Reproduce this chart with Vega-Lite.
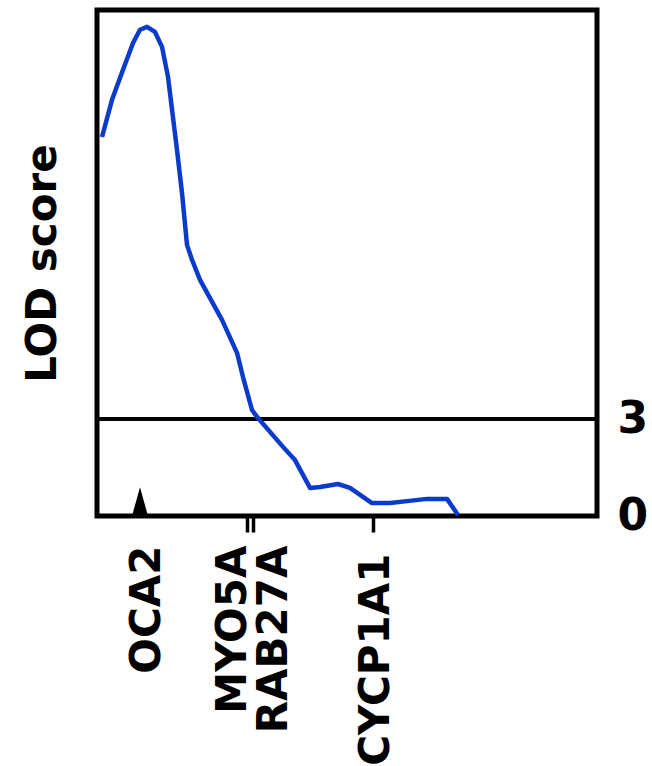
{
  "$schema": "https://vega.github.io/schema/vega-lite/v6.json",
  "width": 500,
  "height": 506,
  "autosize": "none",
  "padding": {"left": 97, "top": 10, "right": 55, "bottom": 250},
  "background": "white",
  "config": {
    "view": {"stroke": "black", "strokeWidth": 5},
    "font": "DejaVu Sans",
    "axisX": {
      "title": null,
      "domain": false,
      "grid": false,
      "tickSize": 16,
      "tickWidth": 3.5,
      "tickColor": "black",
      "labelAngle": -90,
      "labelAlign": "right",
      "labelBaseline": "middle",
      "labelFont": "DejaVu Sans",
      "labelFontSize": 42,
      "labelFontWeight": "bold",
      "labelColor": "black",
      "labelFlush": false,
      "labelOverlap": false,
      "labelBound": false,
      "labelLimit": 0
    }
  },
  "datasets": {
    "lod": [
      {"pos": 1.0, "lod": 11.73},
      {"pos": 3.0, "lod": 12.88},
      {"pos": 5.2, "lod": 13.81},
      {"pos": 7.2, "lod": 14.64},
      {"pos": 8.6, "lod": 15.05},
      {"pos": 10.0, "lod": 15.14},
      {"pos": 11.6, "lod": 14.98},
      {"pos": 13.0, "lod": 14.52},
      {"pos": 14.2, "lod": 13.59},
      {"pos": 16.0, "lod": 11.33},
      {"pos": 17.0, "lod": 10.0},
      {"pos": 18.0, "lod": 8.39},
      {"pos": 19.0, "lod": 7.93},
      {"pos": 20.6, "lod": 7.31},
      {"pos": 25.0, "lod": 6.07},
      {"pos": 28.0, "lod": 5.05},
      {"pos": 29.2, "lod": 4.3},
      {"pos": 31.0, "lod": 3.28},
      {"pos": 32.2, "lod": 3.03},
      {"pos": 37.2, "lod": 2.14},
      {"pos": 39.6, "lod": 1.73},
      {"pos": 42.6, "lod": 0.87},
      {"pos": 44.6, "lod": 0.9},
      {"pos": 48.2, "lod": 0.99},
      {"pos": 50.6, "lod": 0.87},
      {"pos": 55.0, "lod": 0.4},
      {"pos": 58.6, "lod": 0.4},
      {"pos": 62.0, "lod": 0.46},
      {"pos": 66.0, "lod": 0.53},
      {"pos": 70.0, "lod": 0.53},
      {"pos": 72.2, "lod": 0.03}
    ],
    "genes": [
      {"gene": "OCA2", "pos": 8.6}
    ],
    "threshold": [
      {"lod": 3}
    ]
  },
  "layer": [
    {
      "data": {"name": "threshold"},
      "mark": {"type": "rule", "color": "black", "strokeWidth": 4},
      "encoding": {
        "y": {
          "field": "lod",
          "type": "quantitative",
          "scale": {"domain": [0, 15.66], "nice": false, "zero": false},
          "axis": {
            "orient": "left",
            "title": "LOD score",
            "titleFont": "DejaVu Sans",
            "titleFontSize": 42,
            "titleFontWeight": "bold",
            "titleColor": "black",
            "titlePadding": 33,
            "labels": false,
            "ticks": false,
            "domain": false,
            "grid": false
          }
        }
      }
    },
    {
      "data": {"name": "lod"},
      "mark": {"type": "line", "color": "#0b3bcc", "strokeWidth": 4.5, "strokeJoin": "round"},
      "encoding": {
        "x": {
          "field": "pos",
          "type": "quantitative",
          "scale": {"domain": [0, 100], "nice": false, "zero": false},
          "axis": {
            "title": null,
            "values": [8.6, 30.0, 31.2, 55.2],
            "labelExpr": "datum.value < 10 ? 'OCA2' : datum.value < 30.5 ? 'MYO5A' : datum.value < 40 ? 'RAB27A' : 'CYCP1A1'",
            "labelOffset": {"expr": "datum.value < 10 ? 6 : datum.value < 30.5 ? -15 : datum.value < 40 ? 20 : 2"},
            "labelPadding": {"expr": "datum.value > 40 ? 21 : 13"},
            "tickOpacity": {"expr": "datum.value < 10 ? 0 : 1"}
          }
        },
        "y": {
          "field": "lod",
          "type": "quantitative",
          "scale": {"domain": [0, 15.66], "nice": false, "zero": false},
          "axis": {
            "orient": "right",
            "values": [0, 3],
            "title": null,
            "ticks": false,
            "domain": false,
            "grid": false,
            "labelFont": "DejaVu Sans",
            "labelFontSize": 44,
            "labelFontWeight": "bold",
            "labelColor": "black",
            "labelPadding": 20,
            "labelBaseline": "middle"
          }
        }
      }
    },
    {
      "data": {"name": "genes"},
      "mark": {
        "type": "point",
        "shape": "M-1,0L0,-3.6L1,0Z",
        "filled": true,
        "color": "black",
        "opacity": 1,
        "size": 256,
        "strokeWidth": 0
      },
      "encoding": {
        "x": {
          "field": "pos",
          "type": "quantitative",
          "axis": {
            "title": null,
            "values": [8.6, 30.0, 31.2, 55.2],
            "labelExpr": "datum.value < 10 ? 'OCA2' : datum.value < 30.5 ? 'MYO5A' : datum.value < 40 ? 'RAB27A' : 'CYCP1A1'",
            "labelOffset": {"expr": "datum.value < 10 ? 6 : datum.value < 30.5 ? -15 : datum.value < 40 ? 20 : 2"},
            "labelPadding": {"expr": "datum.value > 40 ? 21 : 13"},
            "tickOpacity": {"expr": "datum.value < 10 ? 0 : 1"}
          }
        },
        "y": {
          "datum": 0,
          "type": "quantitative",
          "scale": {"domain": [0, 15.66], "nice": false, "zero": false},
          "axis": null
        }
      }
    }
  ],
  "resolve": {"scale": {"y": "independent"}}
}
